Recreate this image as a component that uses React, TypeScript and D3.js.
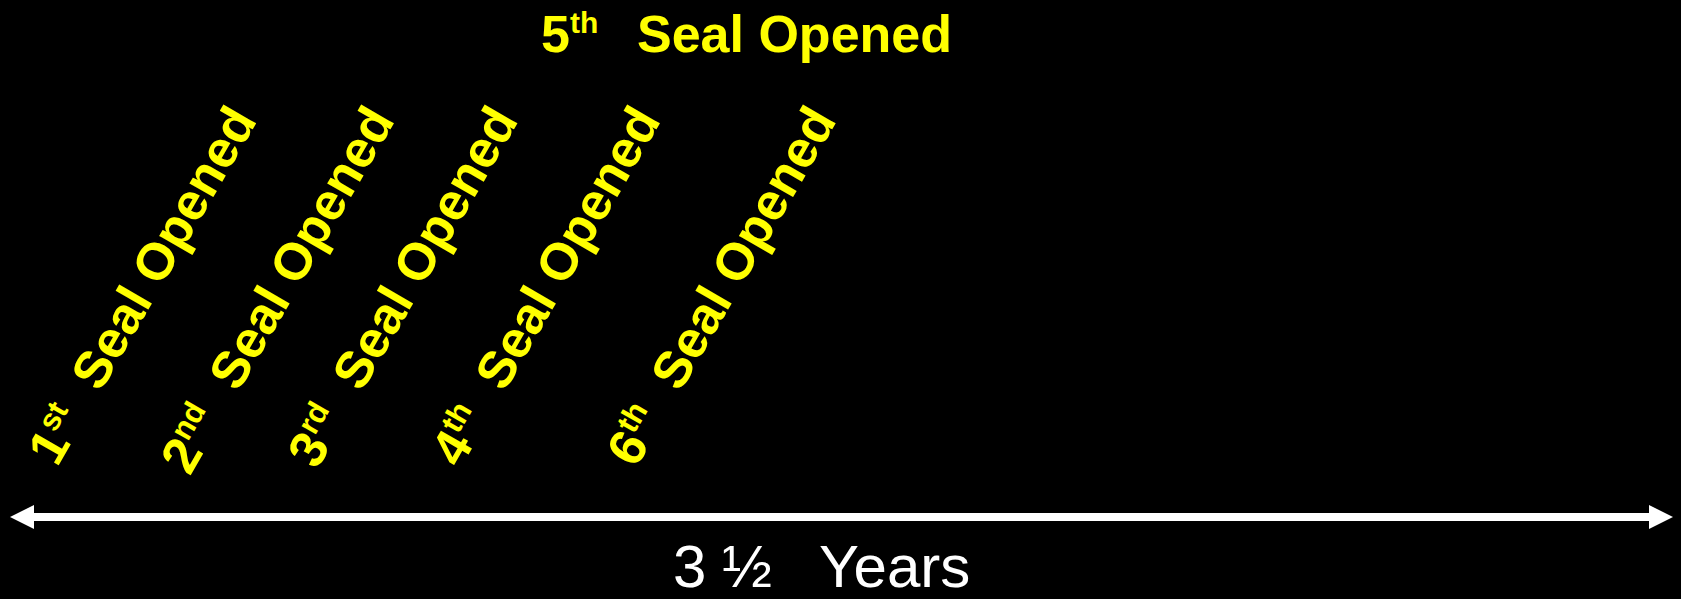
import React, { useEffect, useRef } from 'react';
import * as d3 from 'd3';

// seals along the timeline (the 5th one sits at the top)
const sealNumbers: string[] = ['1', '2', '3', '4', '6'];
const sealSuffixes: string[] = ['st', 'nd', 'rd', 'th', 'th'];
const sealYears: number[] = [0.19, 0.48, 0.74, 1.04, 1.41]; // where each label starts on the 3.5 year line
const sealText = 'Seal Opened';

const topNumber = '5';
const topSuffix = 'th';

const spanYears: number[] = [0, 3.5];
const spanParts: string[] = ['3', '\u00BD', 'Years'];

const App: React.FC = () => {
  const svgRef = useRef<SVGSVGElement | null>(null);

  useEffect(() => {
    const width = 1681;
    const height = 599;
    const yellow = '#FFFF00';
    const font = '"Liberation Sans", Arial, sans-serif';
    const bigSize = 52;
    const supSize = 31;
    const supRise = 19;
    const gap = 30; // space between the ordinal and "Seal Opened"
    const angle = -60;
    const labelBaseline = 393;
    const arrowY = 517;
    const head = 24;

    const svg = d3.select(svgRef.current)
      .attr('width', width)
      .attr('height', height);

    svg.selectAll('*').remove();

    svg.append('rect')
      .attr('width', width)
      .attr('height', height)
      .attr('fill', '#000');

    const x = d3.scaleLinear()
      .domain(spanYears)
      .range([10, 1673]);

    // timeline arrow
    const [x0, x1] = x.range();
    svg.append('line')
      .attr('x1', x0 + head - 2)
      .attr('x2', x1 - head + 2)
      .attr('y1', arrowY)
      .attr('y2', arrowY)
      .attr('stroke', '#fff')
      .attr('stroke-width', 8);

    svg.append('path')
      .attr('d', `M${x0},${arrowY}L${x0 + head},${arrowY - head / 2}L${x0 + head},${arrowY + head / 2}Z`)
      .attr('fill', '#fff');
    svg.append('path')
      .attr('d', `M${x1},${arrowY}L${x1 - head},${arrowY - head / 2}L${x1 - head},${arrowY + head / 2}Z`)
      .attr('fill', '#fff');

    // "3 ½  Years" under the line
    const span = svg.append('text')
      .attr('y', 587)
      .attr('fill', '#fff')
      .attr('font-family', font)
      .attr('font-size', 60);
    span.append('tspan').attr('x', 673).text(spanParts[0]);
    span.append('tspan').attr('x', 722).text(spanParts[1]);
    span.append('tspan').attr('x', 819).text(spanParts[2]);

    // rotated seal labels
    const labels = svg.selectAll('.seal')
      .data(sealYears)
      .enter()
      .append('g')
      .attr('class', 'seal')
      .attr('transform', d => `translate(${x(d)},${labelBaseline}) rotate(${angle})`)
      .attr('fill', yellow)
      .attr('font-family', font)
      .attr('font-weight', 'bold');

    const ord = labels.append('text')
      .attr('x', -gap)
      .attr('text-anchor', 'end');
    ord.append('tspan')
      .attr('font-size', bigSize)
      .text((_, i) => sealNumbers[i]);
    ord.append('tspan')
      .attr('font-size', supSize)
      .attr('dy', -supRise)
      .text((_, i) => sealSuffixes[i]);

    labels.append('text')
      .attr('x', 0)
      .attr('font-size', bigSize)
      .text(sealText);

    // 5th seal, straight across the top
    const top = svg.append('text')
      .attr('x', 541)
      .attr('y', 52)
      .attr('fill', yellow)
      .attr('font-family', font)
      .attr('font-weight', 'bold')
      .attr('font-size', bigSize);
    top.append('tspan').text(topNumber);
    top.append('tspan')
      .attr('font-size', 30)
      .attr('dy', -supRise)
      .text(topSuffix);
    top.append('tspan')
      .attr('x', 637)
      .attr('dy', supRise)
      .text(sealText);
  }, []);

  return (
    <svg ref={svgRef} style={{ position: 'fixed', left: 0, top: 0, display: 'block' }}></svg>
  );
};

export default App;
